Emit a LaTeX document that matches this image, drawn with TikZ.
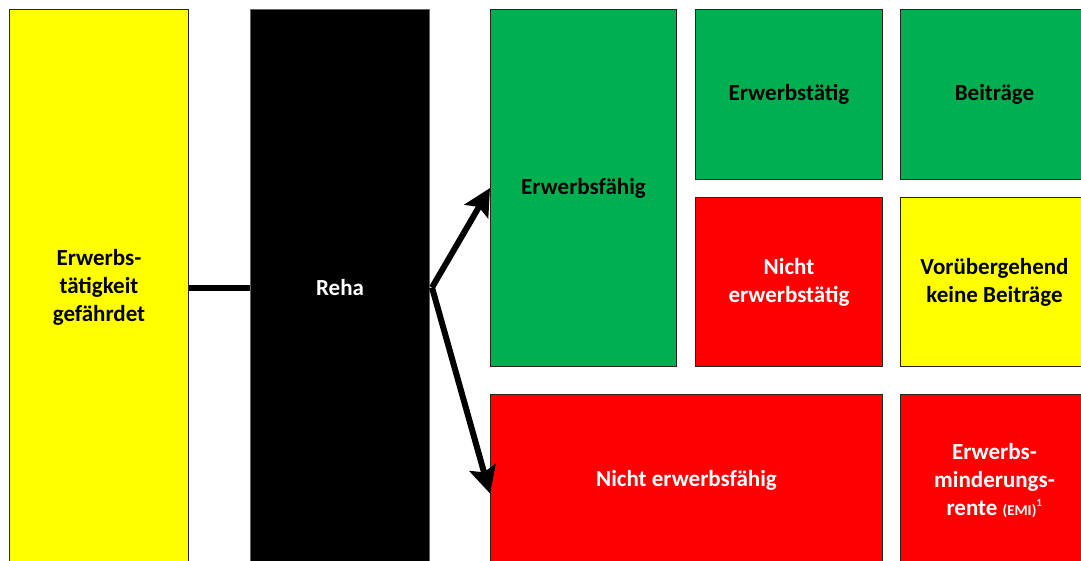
\documentclass[tikz,border=0pt]{standalone}
\usepackage{fontspec}
\setmainfont{Carlito}
\usetikzlibrary{arrows.meta}

\definecolor{gruen}{RGB}{0,176,80}
\definecolor{rot}{RGB}{255,0,0}
\definecolor{gelb}{RGB}{255,255,0}

\begin{document}
\begin{tikzpicture}[
    x = 1pt,
    y = -1pt,
    >={Stealth[length=27pt,width=27pt,inset=5pt]},
    box/.style = {
      draw = black!85,
      line width = 1pt,
      rectangle,
      anchor = north west,
      inner sep = 0pt,
      align = center,
      font = \fontsize{23}{28}\selectfont\bfseries
    },
    link/.style = {
      line width = 6pt,
      black
    }
  ]
  \useasboundingbox (0,0) rectangle (1081,560);
  \clip (0,0) rectangle (1081,560);

  \node[box, fill=gelb, minimum width=179pt, minimum height=556pt] (gef) at (9,9) {Erwerbs-\\tätigkeit\\gefährdet};
  \node[box, fill=black, draw=black!60, text=white, minimum width=179pt, minimum height=556pt] (reha) at (250,9) {Reha};

  \node[box, fill=gruen, minimum width=186pt, minimum height=357pt] (ef) at (490,9) {Erwerbsfähig};
  \node[box, fill=gruen, minimum width=187pt, minimum height=170pt] (et) at (695,9) {Erwerbstätig};
  \node[box, fill=gruen, minimum width=188pt, minimum height=170pt] (bei) at (900,9) {Beiträge};
  \node[box, fill=rot, text=white, minimum width=187pt, minimum height=169pt] (net) at (695,197) {Nicht\\erwerbstätig};
  \node[box, fill=gelb, minimum width=188pt, minimum height=169pt] (vkb) at (900,197) {Vorübergehend\\keine Beiträge};

  \node[box, fill=rot, text=white, minimum width=392pt, minimum height=172pt] (nef) at (490,394) {Nicht erwerbsfähig};
  \node[box, fill=rot, text=white, minimum width=188pt, minimum height=172pt] (emi) at (900,394) {Erwerbs-\\minderungs-\\rente {\fontsize{15}{18}\selectfont(EMI)}\textsuperscript{\fontsize{11}{12}\selectfont1}};

  \draw[link] (gef.east) -- (reha.west);
  \draw[link, ->] ([xshift=2pt]reha.east) -- (ef.west);
  \draw[link, ->] ([xshift=2pt]reha.east) -- ([yshift=-13pt]nef.west);
\end{tikzpicture}
\end{document}
